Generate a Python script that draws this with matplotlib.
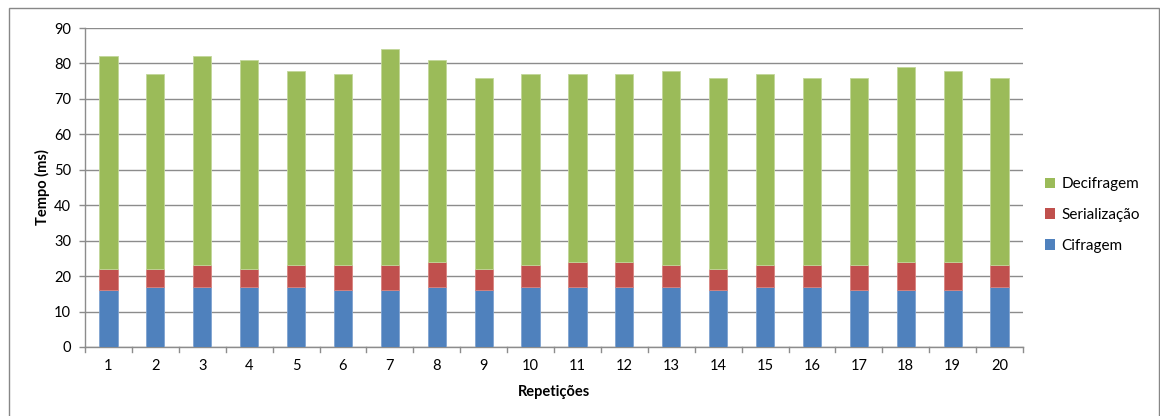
import matplotlib
matplotlib.use("Agg")
import matplotlib.pyplot as plt
from matplotlib.patches import Rectangle
from matplotlib.lines import Line2D
import numpy as np

plt.rcParams['font.family'] = ['Lato', 'DejaVu Sans']

repeticoes = [str(i) for i in range(1, 21)]
cifragem = [16, 17, 17, 17, 17, 16, 16, 17, 16, 17, 17, 17, 17, 16, 17, 17, 16, 16, 16, 17]
serializacao = [6, 5, 6, 5, 6, 7, 7, 7, 6, 6, 7, 7, 6, 6, 6, 6, 7, 8, 8, 6]
decifragem = [60, 55, 59, 59, 55, 54, 61, 57, 54, 54, 53, 53, 55, 54, 54, 53, 53, 55, 54, 53]
y_ticks = list(range(0, 91, 10))

c_blue = '#4F81BD'
c_red = '#C0504D'
c_green = '#9BBB59'
grid_c = '#8C8C8C'

fig = plt.figure(figsize=(11.6, 4.16), dpi=100)
ax = fig.add_axes([85 / 1160, 1 - 347 / 416, (1023 - 85) / 1160, (347 - 28) / 416])

x = np.arange(len(repeticoes))
w = 0.39
cif = np.array(cifragem)
ser = np.array(serializacao)
dec = np.array(decifragem)

ax.bar(x, cif, w, color=c_blue, edgecolor='#7FA3D0', linewidth=0.6, label='Cifragem', zorder=3)
ax.bar(x, ser, w, bottom=cif, color=c_red, edgecolor='#D8837F', linewidth=0.6, label='Serialização', zorder=3)
ax.bar(x, dec, w, bottom=cif + ser, color=c_green, edgecolor='#C2D79A', linewidth=0.6, label='Decifragem', zorder=3)

ax.set_xlim(-0.5, len(repeticoes) - 0.5)
ax.set_ylim(0, 90)
ax.set_yticks(y_ticks)
ax.set_yticklabels([str(v) for v in y_ticks], fontsize=10.5)
ax.set_xticks(x)
ax.set_xticklabels(repeticoes, fontsize=10.5)
ax.tick_params(axis='x', length=0, pad=9)
ax.tick_params(axis='y', length=4, color=grid_c, width=1, pad=6)

# category boundary ticks on the x axis
for b in np.arange(-0.5, len(repeticoes) + 0.5, 1.0):
    ax.add_line(Line2D([b, b], [0, -1.4], color=grid_c, lw=1, clip_on=False, zorder=4))

ax.yaxis.grid(True, color=grid_c, lw=1.0, zorder=0)
ax.set_axisbelow(True)
for s in ['top', 'right']:
    ax.spines[s].set_visible(False)
for s in ['left', 'bottom']:
    ax.spines[s].set_color(grid_c)
    ax.spines[s].set_linewidth(1.0)

ax.set_ylabel('Tempo (ms)', fontsize=10.5, fontweight='bold', labelpad=3)
ax.set_xlabel('Repetições', fontsize=10.5, fontweight='bold', labelpad=8)

handles, labels = ax.get_legend_handles_labels()
leg = fig.legend(handles[::-1], labels[::-1], loc='center left',
                 bbox_to_anchor=(1031 / 1160, 1 - 215 / 416), frameon=False,
                 fontsize=11, handlelength=0.7, handleheight=0.7,
                 handletextpad=0.4, labelspacing=1.1)
for h in leg.legend_handles:
    h.set_edgecolor('none')

# outer chart frame
fig.patches.append(Rectangle((9 / 1160, -0.05), 1150 / 1160, 1.05 - 8 / 416,
                             transform=fig.transFigure, fill=False,
                             edgecolor='#878787', lw=1.0))

fig.savefig('out.png', dpi=100)
